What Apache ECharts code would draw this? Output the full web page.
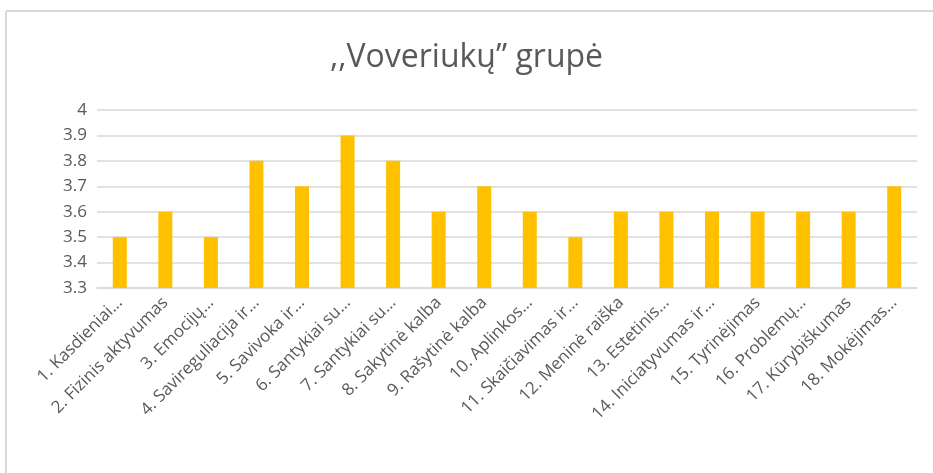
<!DOCTYPE html>
<html>
<head>
<meta charset="utf-8">
<script src="https://cdn.jsdelivr.net/npm/echarts@6/dist/echarts.min.js"></script>
<style>
  html, body { margin: 0; padding: 0; background: #fff; }
  #chart { width: 933px; height: 473px; }
</style>
</head>
<body>
<div id="chart"></div>
<script>
var categories = [
  '1. Kasdieniai…', '2. Fizinis aktyvumas', '3. Emocijų…', '4. Savireguliacija ir…',
  '5. Savivoka ir…', '6. Santykiai su…', '7. Santykiai su…', '8. Sakytinė kalba',
  '9. Rašytinė kalba', '10. Aplinkos…', '11. Skaičiavimas ir…', '12. Meninė raiška',
  '13. Estetinis…', '14. Iniciatyvumas ir…', '15. Tyrinėjimas', '16. Problemų…',
  '17. Kūrybiškumas', '18. Mokėjimas…'
];
var values = [3.5, 3.6, 3.5, 3.8, 3.7, 3.9, 3.8, 3.6, 3.7, 3.6, 3.5, 3.6, 3.6, 3.6, 3.6, 3.6, 3.6, 3.7];
var yMin = 3.3, yMax = 4, yStep = 0.1;

var font = 'Open Sans';
var chart = echarts.init(document.getElementById('chart'));
chart.setOption({
  animation: false,
  title: {
    text: ',,Voveriukų” grupė',
    left: 'center',
    top: 37,
    textStyle: { fontFamily: font, fontSize: 32, fontWeight: 'normal', color: '#595959' }
  },
  graphic: [
    { type: 'line', shape: { x1: 6, y1: 11, x2: 933, y2: 11 }, style: { stroke: '#d9d9d9', lineWidth: 2 } },
    { type: 'line', shape: { x1: 6, y1: 11, x2: 6, y2: 473 }, style: { stroke: '#d9d9d9', lineWidth: 2 } }
  ],
  grid: { left: 97, right: 16, top: 110, bottom: 185, containLabel: false },
  xAxis: {
    type: 'category',
    data: categories,
    axisLine: { lineStyle: { color: '#d9d9d9', width: 1.5 } },
    axisTick: { show: false },
    axisLabel: {
      interval: 0,
      rotate: 45,
      margin: 12,
      fontFamily: font,
      fontSize: 17,
      color: '#595959'
    }
  },
  yAxis: {
    type: 'value',
    min: yMin,
    max: yMax,
    interval: yStep,
    axisLine: { show: false },
    axisTick: { show: false },
    splitLine: { lineStyle: { color: '#d9d9d9', width: 1.5 } },
    axisLabel: {
      margin: 10,
      fontFamily: font,
      fontSize: 17,
      color: '#595959',
      formatter: function (v) { return String(Math.round(v * 10) / 10); }
    }
  },
  series: [{
    type: 'bar',
    data: values,
    barWidth: 14,
    itemStyle: { color: '#ffc000' }
  }]
});
</script>
</body>
</html>
